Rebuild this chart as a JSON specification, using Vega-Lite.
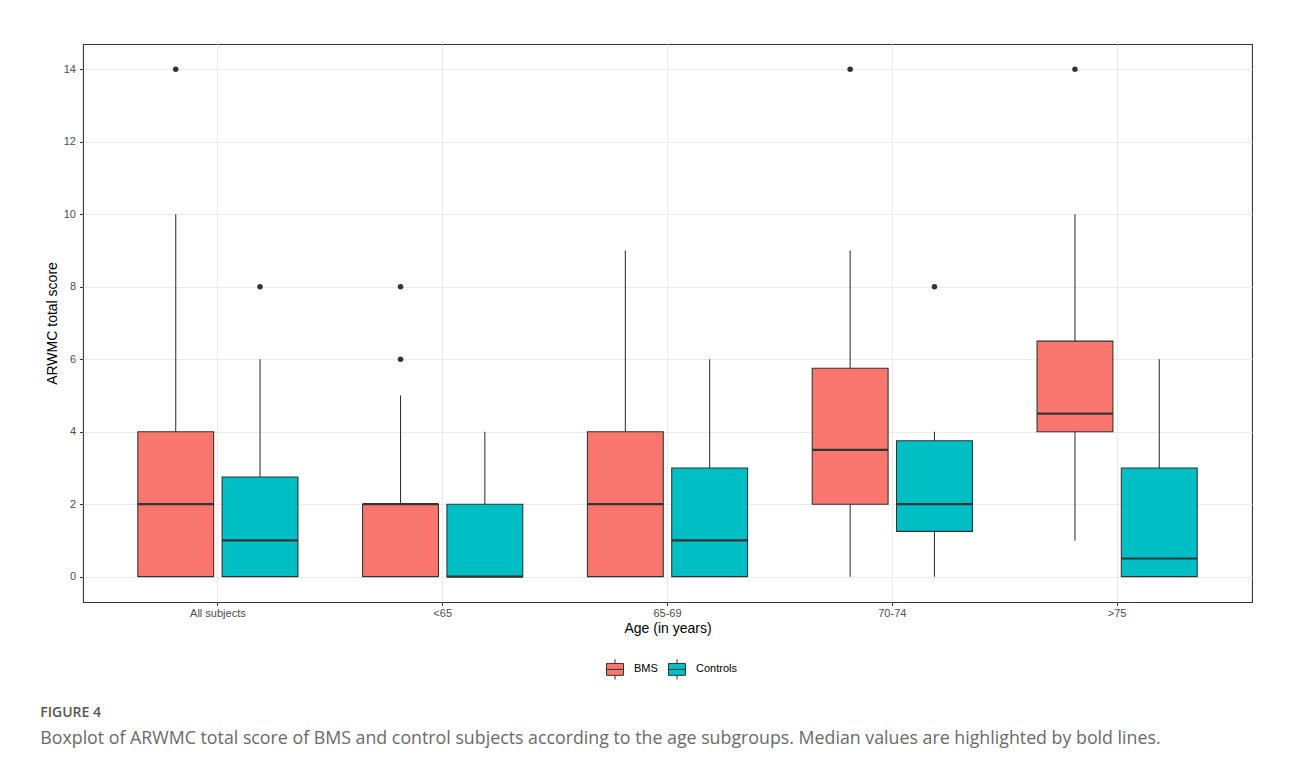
{
  "$schema": "https://vega.github.io/schema/vega-lite/v6.json",
  "width": 1169,
  "height": 558,
  "autosize": {"type": "none"},
  "padding": {"left": 83, "top": 44, "right": 38, "bottom": 163},
  "background": "white",
  "config": {
    "view": {"stroke": "#333333", "strokeWidth": 1.07},
    "font": "Liberation Sans"
  },
  "title": {
    "text": "FIGURE 4",
    "subtitle": "Boxplot of ARWMC total score of BMS and control subjects according to the age subgroups. Median values are highlighted by bold lines.",
    "orient": "bottom",
    "anchor": "start",
    "frame": "bounds",
    "offset": 24,
    "dx": -5,
    "font": "Open Sans",
    "fontSize": 14,
    "fontWeight": 600,
    "color": "#555555",
    "subtitleFont": "Open Sans",
    "subtitleFontSize": 17.8,
    "subtitleColor": "#6a6a6a",
    "subtitlePadding": 10
  },
  "datasets": {
    "boxes": [
      {"group": "All subjects", "type": "BMS", "lower": 0, "q1": 0, "median": 2, "q3": 4, "upper": 10},
      {"group": "All subjects", "type": "Controls", "lower": 0, "q1": 0, "median": 1, "q3": 2.75, "upper": 6},
      {"group": "<65", "type": "BMS", "lower": 0, "q1": 0, "median": 2, "q3": 2, "upper": 5},
      {"group": "<65", "type": "Controls", "lower": 0, "q1": 0, "median": 0, "q3": 2, "upper": 4},
      {"group": "65-69", "type": "BMS", "lower": 0, "q1": 0, "median": 2, "q3": 4, "upper": 9},
      {"group": "65-69", "type": "Controls", "lower": 0, "q1": 0, "median": 1, "q3": 3, "upper": 6},
      {"group": "70-74", "type": "BMS", "lower": 0, "q1": 2, "median": 3.5, "q3": 5.75, "upper": 9},
      {"group": "70-74", "type": "Controls", "lower": 0, "q1": 1.25, "median": 2, "q3": 3.75, "upper": 4},
      {"group": ">75", "type": "BMS", "lower": 1, "q1": 4, "median": 4.5, "q3": 6.5, "upper": 10},
      {"group": ">75", "type": "Controls", "lower": 0, "q1": 0, "median": 0.5, "q3": 3, "upper": 6}
    ],
    "outliers": [
      {"group": "All subjects", "type": "BMS", "value": 14},
      {"group": "All subjects", "type": "Controls", "value": 8},
      {"group": "<65", "type": "BMS", "value": 6},
      {"group": "<65", "type": "BMS", "value": 8},
      {"group": "70-74", "type": "BMS", "value": 14},
      {"group": "70-74", "type": "Controls", "value": 8},
      {"group": ">75", "type": "BMS", "value": 14}
    ]
  },
  "encoding": {
    "x": {
      "field": "group",
      "type": "nominal",
      "sort": ["All subjects", "<65", "65-69", "70-74", ">75"],
      "scale": {"domain": ["All subjects", "<65", "65-69", "70-74", ">75"], "paddingInner": 0.25, "paddingOuter": 0.225},
      "axis": {
        "title": "Age (in years)",
        "titleFontSize": 14,
        "titleFontWeight": "normal",
        "titleColor": "#000000",
        "titlePadding": 3,
        "labelFontSize": 11,
        "labelColor": "#4D4D4D",
        "labelAngle": 0,
        "labelPadding": 2,
        "tickColor": "#333333",
        "tickSize": 3.5,
        "tickWidth": 1.07,
        "domain": false,
        "grid": true,
        "gridColor": "#EBEBEB",
        "gridWidth": 1.1,
        "bandPosition": 0.5
      }
    },
    "xOffset": {
      "field": "type",
      "type": "nominal",
      "sort": ["BMS", "Controls"],
      "scale": {"domain": ["BMS", "Controls"], "paddingInner": 0.1, "paddingOuter": 0.05}
    }
  },
  "layer": [
    {
      "data": {"name": "boxes"},
      "mark": {"type": "rule", "color": "#333333", "strokeWidth": 1.07},
      "encoding": {
        "y": {
          "field": "lower",
          "type": "quantitative",
          "scale": {"domain": [-0.7, 14.7], "nice": false, "zero": false},
          "axis": {
            "values": [0, 1, 2, 3, 4, 5, 6, 7, 8, 9, 10, 11, 12, 13, 14],
            "labelExpr": "datum.value % 2 == 0 ? datum.label : ''",
            "title": "ARWMC total score",
            "titleFontSize": 14,
            "titleFontWeight": "normal",
            "titleColor": "#000000",
            "titlePadding": 4,
            "labelFontSize": 11,
            "labelColor": "#4D4D4D",
            "labelPadding": 4,
            "tickColor": "#333333",
            "tickSize": 3.5,
            "tickWidth": 1.07,
            "tickOpacity": {"condition": {"test": "datum.value % 2 == 1", "value": 0}, "value": 1},
            "domain": false,
            "grid": true,
            "gridColor": "#EBEBEB",
            "gridWidth": {"condition": {"test": "datum.value % 2 == 1", "value": 0.55}, "value": 1.1}
          }
        },
        "y2": {"field": "upper"}
      }
    },
    {
      "data": {"name": "boxes"},
      "mark": {"type": "bar", "stroke": "#333333", "strokeWidth": 1.07, "opacity": 1},
      "encoding": {
        "y": {"field": "q1", "type": "quantitative"},
        "y2": {"field": "q3"},
        "color": {
          "field": "type",
          "type": "nominal",
          "scale": {"domain": ["BMS", "Controls"], "range": ["#F8766D", "#00BFC4"]},
          "legend": {
            "orient": "none",
            "legendX": 523,
            "legendY": 616,
            "direction": "horizontal",
            "title": null,
            "symbolType": "M-1,-0.7H1V0.7H-1Z M-1,0H1 M0,-0.7V-1.2 M0,0.7V1.2",
            "symbolSize": 289,
            "symbolStrokeColor": "#333333",
            "symbolStrokeWidth": 1,
            "symbolOpacity": 1,
            "labelFontSize": 11,
            "labelColor": "#000000",
            "labelOffset": 10,
            "columnPadding": 8,
            "padding": 0
          }
        }
      }
    },
    {
      "data": {"name": "boxes"},
      "mark": {"type": "bar", "fill": null, "stroke": "#333333", "strokeWidth": 2.2},
      "encoding": {
        "y": {"field": "median", "type": "quantitative"},
        "y2": {"field": "median"}
      }
    },
    {
      "data": {"name": "outliers"},
      "mark": {"type": "point", "filled": true, "color": "#333333", "size": 30, "opacity": 1},
      "encoding": {
        "y": {"field": "value", "type": "quantitative"}
      }
    }
  ]
}
